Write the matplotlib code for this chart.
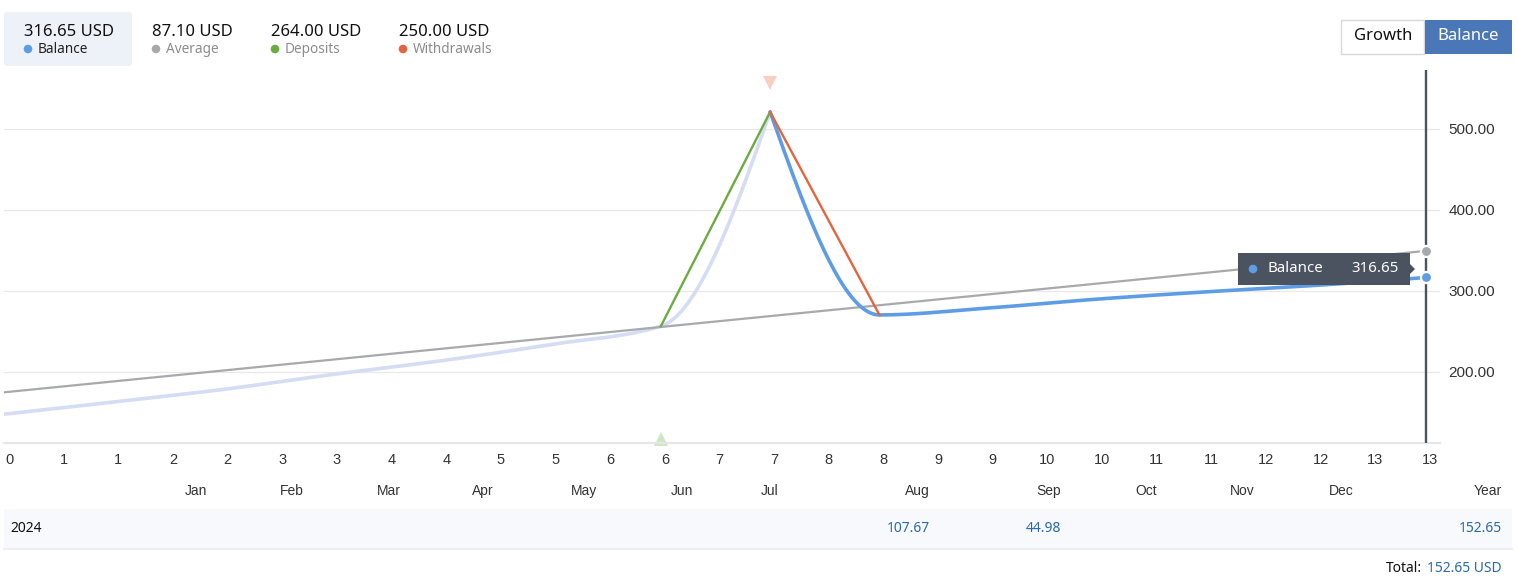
import matplotlib
matplotlib.use("Agg")
import numpy as np
import matplotlib.pyplot as plt
from matplotlib.patches import Rectangle, FancyBboxPatch, Polygon, Circle
from matplotlib.transforms import ScaledTranslation, blended_transform_factory

# ---------------- data ----------------
idx = [0, 1, 2, 3, 4, 5, 6, 7, 8, 9, 10, 11, 12, 13]
balance = [148, 163, 178.5, 197, 214, 234, 256.5, 521, 270.4, 279, 290, 299, 307, 316.65]
split_idx = 7                      # balance drawn pale up to here, blue after
deposit_x = [6, 7]
deposit_y = [256.5, 521]
withdraw_x = [7, 8]
withdraw_y = [521, 270.4]
avg_x = [0, 13]
avg_y = [175, 349.5]
deposit_marker_x = 6
withdraw_marker_x = 7

x_tick_vals = [0, 0.5, 1, 1.5, 2, 2.5, 3, 3.5, 4, 4.5, 5, 5.5, 6, 6.5, 7, 7.5, 8, 8.5,
               9, 9.5, 10, 10.5, 11, 11.5, 12, 12.5, 13]
x_tick_labels = ["0", "1", "1", "2", "2", "3", "3", "4", "4", "5", "5", "6", "6", "7", "7",
                 "8", "8", "9", "9", "10", "10", "11", "11", "12", "12", "13", "13"]
y_ticks = [200, 300, 400, 500]
y_tick_labels = ["200.00", "300.00", "400.00", "500.00"]

header_values = ["316.65 USD", "87.10 USD", "264.00 USD", "250.00 USD"]
header_labels = ["Balance", "Average", "Deposits", "Withdrawals"]
columns = ["Jan", "Feb", "Mar", "Apr", "May", "Jun", "Jul", "Aug", "Sep", "Oct", "Nov", "Dec", "Year"]
row_label = "2024"
row_values = ["", "", "", "", "", "", "", "107.67", "44.98", "", "", "", "152.65"]
total_value = "152.65 USD"
tooltip_label = "Balance"
tooltip_value = "316.65"
buttons = ["Growth", "Balance"]

# ---------------- style / layout ----------------
W, H = 1517, 587
C_BAL = "#5e9de6"
C_BAL_PALE = "#d5ddf5"
C_AVG = "#a8a9ac"
C_DEP = "#6aac3f"
C_WD = "#e2653f"
C_DARK = "#4b5361"
C_BLUE_TXT = "#2b6aa6"
SANS = ["Noto Sans", "DejaVu Sans"]
TICKF = ["Liberation Sans", "DejaVu Sans"]

header_x = [24, 152, 271, 399]
col_right = [207, 304, 401, 494, 597, 693, 779, 930, 1061, 1157, 1255, 1354, 1502]


def pchip_curve(x, y, n=40):
    x = np.asarray(x, float)
    y = np.asarray(y, float)
    h = np.diff(x)
    d = np.diff(y) / h
    m = np.zeros_like(y)
    if len(x) == 2:
        m[:] = d[0]
    else:
        for k in range(1, len(x) - 1):
            if d[k - 1] * d[k] <= 0:
                m[k] = 0
            else:
                w1 = 2 * h[k] + h[k - 1]
                w2 = h[k] + 2 * h[k - 1]
                m[k] = (w1 + w2) / (w1 / d[k - 1] + w2 / d[k])

        def endslope(h0, h1, d0, d1):
            s = ((2 * h0 + h1) * d0 - h0 * d1) / (h0 + h1)
            if np.sign(s) != np.sign(d0):
                s = 0
            elif np.sign(d0) != np.sign(d1) and abs(s) > abs(3 * d0):
                s = 3 * d0
            return s
        m[0] = endslope(h[0], h[1], d[0], d[1])
        m[-1] = endslope(h[-1], h[-2], d[-1], d[-2])
    xs, ys = [], []
    for k in range(len(x) - 1):
        t = np.linspace(0, 1, n)
        h00 = 2 * t**3 - 3 * t**2 + 1
        h10 = t**3 - 2 * t**2 + t
        h01 = -2 * t**3 + 3 * t**2
        h11 = t**3 - t**2
        xs.append(x[k] + t * h[k])
        ys.append(h00 * y[k] + h10 * h[k] * m[k] + h01 * y[k + 1] + h11 * h[k] * m[k + 1])
    return np.concatenate(xs), np.concatenate(ys)


fig = plt.figure(figsize=(W / 100, H / 100), dpi=100)
fig.patch.set_facecolor("white")

# main chart axes (pixel box 4..1440 x 70..443)
ax = fig.add_axes([4 / W, 1 - 443 / H, (1440 - 4) / W, (443 - 70) / H])
px_per_unit = 1421 / 13
ax.set_xlim(-1 / px_per_unit, (1440 - 5) / px_per_unit)
ax.set_ylim(112.3, 572.8)
for s in ["top", "left", "right"]:
    ax.spines[s].set_visible(False)
ax.spines["bottom"].set_color("#e6e6e6")
ax.spines["bottom"].set_linewidth(1.6)
for yv in y_ticks:
    ax.axhline(yv, color="#e8e8e8", lw=0.9, zorder=1)

ax.yaxis.tick_right()
ax.set_yticks(y_ticks)
ax.set_yticklabels(y_tick_labels, family=TICKF, fontsize=11, color="#333333")
ax.tick_params(axis="y", length=0, pad=6)
ax.set_xticks(x_tick_vals)
ax.set_xticklabels(x_tick_labels, family=TICKF, fontsize=10.5, color="#333333")
ax.tick_params(axis="x", length=0, pad=7.5)
off = ScaledTranslation(4 / 100, 0, fig.dpi_scale_trans)
for lab in ax.get_xticklabels():
    lab.set_transform(lab.get_transform() + off)

# balance (pale part and blue part)
xp, yp = pchip_curve(idx[:split_idx + 1], balance[:split_idx + 1])
ax.plot(xp, yp, color=C_BAL_PALE, lw=2.6, zorder=2, solid_capstyle="round")
xb, yb = pchip_curve(idx[split_idx:], balance[split_idx:])
ax.plot(xb, yb, color=C_BAL, lw=2.6, zorder=4, solid_capstyle="round")
# average
ax.plot(avg_x, avg_y, color=C_AVG, lw=1.6, zorder=3)
# deposits / withdrawals
ax.plot(deposit_x, deposit_y, color=C_DEP, lw=1.7, zorder=5)
ax.plot(withdraw_x, withdraw_y, color=C_WD, lw=1.7, zorder=5)

# event markers
tr = blended_transform_factory(ax.transData, ax.transAxes)
ax.plot([deposit_marker_x], [4 / 373], marker="^", ms=10, color="#cfe6c2",
        transform=tr, clip_on=False, zorder=2, mew=0)
ax.plot([withdraw_marker_x], [(443 - 83) / 373], marker="v", ms=10, color="#f7d0c3",
        transform=tr, clip_on=False, zorder=2, mew=0)

# cursor line and hover dots
ax.axvline(idx[-1], color=C_DARK, lw=1.7, zorder=6)
ax.plot([avg_x[-1]], [avg_y[-1]], "o", ms=8, color=C_AVG, mec="white", mew=1.6, zorder=7)
ax.plot([idx[-1]], [balance[-1]], "o", ms=8, color=C_BAL, mec="white", mew=1.6, zorder=7)

# ---------------- overlay (pixel coordinates) ----------------
ov = fig.add_axes([0, 0, 1, 1], zorder=10)
ov.set_xlim(0, W)
ov.set_ylim(H, 0)
ov.axis("off")

# header
ov.add_patch(FancyBboxPatch((4, 12), 128, 54, boxstyle="round,pad=0,rounding_size=3",
                            fc="#edf2f9", ec="none"))
dot_cols = [C_BAL, C_AVG, C_DEP, C_WD]
for i, (v, l) in enumerate(zip(header_values, header_labels)):
    x0 = header_x[i]
    ov.text(x0, 32, v, family=SANS, fontsize=12, color="#111111", ha="left", va="center")
    ov.add_patch(Circle((x0 + 4, 49), 3.6, color=dot_cols[i]))
    ov.text(x0 + 14, 49.5, l, family=SANS, fontsize=9.8,
            color="#222222" if i == 0 else "#8c8c8c", ha="left", va="center")

# buttons
ov.add_patch(Rectangle((1341, 20), 83, 34, fc="white", ec="#d9d9d9", lw=1))
ov.text(1383, 36.5, buttons[0], family=SANS, fontsize=12, color="#111111", ha="center", va="center")
ov.add_patch(Rectangle((1425, 20), 87, 34, fc="#4a77b7", ec="none"))
ov.text(1468.5, 36.5, buttons[1], family=SANS, fontsize=12, color="white",
        fontweight="bold", ha="center", va="center")

# tooltip
ov.add_patch(Rectangle((1238, 253), 172, 32, fc=C_DARK, ec="none"))
ov.add_patch(Polygon([(1410, 264), (1415, 269), (1410, 274)], closed=True, fc=C_DARK, ec="none"))
ov.add_patch(Circle((1253, 269), 3.6, color=C_BAL))
ov.text(1268, 269, tooltip_label, family=SANS, fontsize=10.8, color="white", ha="left", va="center")
ov.text(1399, 269, tooltip_value, family=SANS, fontsize=10.8, color="white", ha="right", va="center")

# month / column header row
for c, xr in zip(columns, col_right):
    ov.text(xr, 491, c, family=TICKF, fontsize=10, color="#333333", ha="right", va="center")

# table row
ov.add_patch(Rectangle((4, 509), 1508, 39, fc="#f7f9fc", ec="none"))
ov.plot([4, 1512], [549, 549], color="#eceff4", lw=1.5)
ov.text(10, 529, row_label, family=SANS, fontsize=10, color="#111111", ha="left", va="center")
for v, xr in zip(row_values, col_right):
    if v:
        ov.text(xr, 529, v, family=SANS, fontsize=10, color=C_BLUE_TXT, ha="right", va="center")

# total
ov.text(1502, 569, total_value, family=SANS, fontsize=10, color=C_BLUE_TXT, ha="right", va="center")
ov.text(1422, 569, "Total:", family=SANS, fontsize=10, color="#111111", ha="right", va="center")

fig.savefig("out.png", dpi=100, facecolor="white")
